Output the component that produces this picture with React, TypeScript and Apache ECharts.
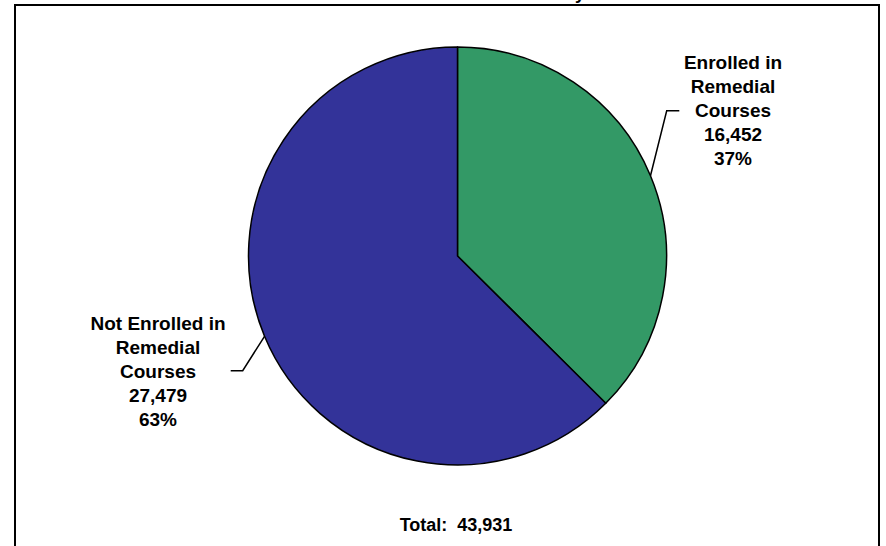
import React, { useEffect, useRef } from "react";
import * as echarts from "echarts";

const categories = ["Enrolled in\nRemedial\nCourses", "Not Enrolled in\nRemedial\nCourses"];
const values = [16452, 27479];
const colors = ["#339966", "#333399"];
const totalLabel = "Total:  43,931";

const FONT = 'Arial, "Liberation Sans", sans-serif';

export default function App() {
  const ref = useRef<HTMLDivElement>(null);
  useEffect(() => {
    document.body.style.margin = "0";
    const chart = echarts.init(ref.current!, null, { renderer: "svg" });
    const fmt = (n: number) => n.toLocaleString("en-US");
    chart.setOption({
      animation: false,
      backgroundColor: "#ffffff",
      graphic: [
        {
          type: "rect",
          shape: { x: 15, y: 5, width: 864, height: 600 },
          style: { fill: "none", stroke: "#000", lineWidth: 2 },
          z: 10,
        },
        {
          type: "text",
          left: 575,
          top: -16,
          style: { text: "y", font: `bold 18px ${FONT}`, fill: "#000" },
        },
        {
          type: "text",
          x: 456,
          y: 525,
          style: {
            text: totalLabel,
            font: `bold 18px ${FONT}`,
            fill: "#000",
            align: "center",
            verticalAlign: "middle",
          },
        },
      ],
      series: [
        {
          type: "pie",
          center: [457.5, 256],
          radius: 209,
          startAngle: 90,
          clockwise: true,
          data: categories.map((name, i) => ({
            name,
            value: values[i],
            itemStyle: { color: colors[i] },
          })),
          itemStyle: { borderColor: "#000", borderWidth: 1.5 },
          emphasis: { disabled: true },
          label: {
            show: true,
            position: "outside",
            formatter: (p: any) => `${p.name}\n${fmt(p.value)}\n${Math.round(p.percent)}%`,
            fontFamily: FONT,
            fontWeight: "bold",
            fontSize: 19,
            lineHeight: 24,
            color: "#000",
            align: "center",
          },
          labelLine: { show: true, lineStyle: { color: "#000", width: 1.5 } },
          labelLayout: (params: any) => {
            const p0 = params.labelLinePoints ? params.labelLinePoints[0] : [0, 0];
            if (params.dataIndex === 0) {
              return {
                x: 733,
                y: 110.7,
                align: "center",
                verticalAlign: "middle",
                labelLinePoints: [p0, [666.7, 110.7], [679.3, 110.7]],
              };
            }
            return {
              x: 158,
              y: 371,
              align: "center",
              verticalAlign: "middle",
              labelLinePoints: [p0, [242.7, 370.7], [230.7, 370.7]],
            };
          },
        },
      ],
    });
    return () => chart.dispose();
  }, []);
  return <div ref={ref} style={{ position: "fixed", left: 0, top: 0, width: 886, height: 546 }} />;
}
